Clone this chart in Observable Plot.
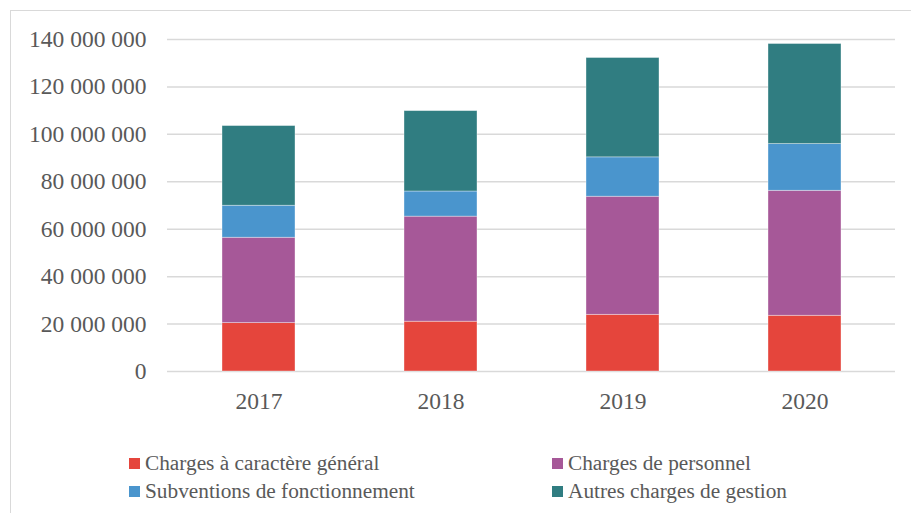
<!DOCTYPE html>
<html>
<head>
<meta charset="utf-8">
<script src="https://cdn.jsdelivr.net/npm/d3@7"></script>
<script src="https://cdn.jsdelivr.net/npm/@observablehq/plot@0.6"></script>
<style>
  body { margin: 0; background: #fff; }
  #wrap { position: relative; width: 911px; height: 513px; overflow: hidden;
          font-family: "Liberation Serif", "Times New Roman", serif; color: #595959; }
  #frame { position: absolute; left: 10px; top: 10px; width: 1000px; height: 600px;
           border-left: 1px solid #d9d9d9; border-top: 1px solid #d9d9d9; box-sizing: border-box; }
  #chart { position: absolute; left: 0; top: 0; }
  #chart svg text { font-family: "Liberation Serif", "Times New Roman", serif; font-variant-numeric: normal; }
  #legend { position: absolute; left: 129px; top: 449px; display: grid;
            grid-template-columns: 423px auto; grid-auto-rows: 28px; font-size: 21.3px; }
  .item { display: flex; align-items: center; white-space: nowrap; }
  .sw { width: 11px; height: 11px; margin-right: 5px; flex: none; }
</style>
</head>
<body>
<div id="wrap">
  <div id="frame"></div>
  <div id="chart"></div>
  <div id="legend"></div>
</div>
<script>
// ---- Data ----
const years = ["2017", "2018", "2019", "2020"];
const seriesNames = [
  "Charges à caractère général",
  "Charges de personnel",
  "Subventions de fonctionnement",
  "Autres charges de gestion"
];
const seriesColors = ["#e5453c", "#a65898", "#4a95cd", "#307d81"];
const chargesGenerales = [20400000, 21000000, 23900000, 23500000];
const chargesPersonnel = [36000000, 44300000, 49800000, 52700000];
const subventions      = [13500000, 10600000, 16600000, 19700000];
const autresCharges    = [33600000, 33900000, 41900000, 42200000];
const yTicks = [0, 20000000, 40000000, 60000000, 80000000, 100000000, 120000000, 140000000];

// legend order (2 columns, row-major)
const legendOrder = [0, 1, 2, 3];

const seriesValues = [chargesGenerales, chargesPersonnel, subventions, autresCharges];
const rows = [];
seriesNames.forEach((s, i) => {
  years.forEach((y, j) => rows.push({ year: y, series: s, value: seriesValues[i][j] }));
});

const fr = d3.formatLocale({ decimal: ",", thousands: "\u00a0", grouping: [3], currency: ["", " €"] });
const fmt = fr.format(",");

const serif = "'Liberation Serif', 'Times New Roman', serif";
const W = 911, H = 420;
const plot = Plot.plot({
  width: W,
  height: H,
  marginLeft: 167,
  marginRight: 16,
  marginTop: 39,
  marginBottom: H - 371,
  style: { fontFamily: serif, color: "#595959", background: "transparent" },
  x: { domain: years, paddingInner: 0.6, paddingOuter: 0.3, label: null },
  y: { domain: [0, 140000000], label: null },
  color: { domain: seriesNames, range: seriesColors },
  marks: [
    Plot.gridY(yTicks, { stroke: "#d9d9d9", strokeOpacity: 1, strokeWidth: 1.5 }),
    Plot.barY(rows, Plot.stackY({
      x: "year", y: "value", fill: "series", order: seriesNames,
      stroke: "#ffffff", strokeOpacity: 0.45, strokeWidth: 0.8
    })),
    Plot.axisY(yTicks, { tickSize: 0, tickPadding: 21, fontSize: 23.5, fontFamily: serif, fontVariant: "normal",
                         tickFormat: fmt, fill: "#595959", label: null }),
    Plot.axisX({ tickSize: 0, tickPadding: 21, fontSize: 23.5, fontFamily: serif, fill: "#595959", label: null })
  ]
});
document.getElementById("chart").appendChild(plot);

const legend = document.getElementById("legend");
legendOrder.forEach(i => {
  const it = document.createElement("div");
  it.className = "item";
  const sw = document.createElement("span");
  sw.className = "sw";
  sw.style.background = seriesColors[i];
  const tx = document.createElement("span");
  tx.textContent = seriesNames[i];
  it.appendChild(sw);
  it.appendChild(tx);
  legend.appendChild(it);
});
</script>
</body>
</html>
